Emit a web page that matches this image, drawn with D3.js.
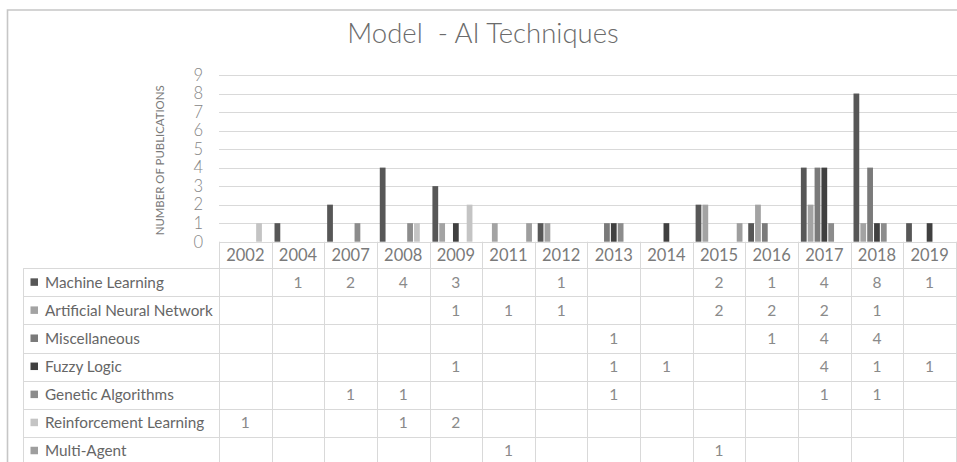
<!DOCTYPE html>
<html>
<head>
<meta charset="utf-8">
<script src="https://cdn.jsdelivr.net/npm/d3@7/dist/d3.min.js"></script>
<style>
  body { margin: 0; background: #fff; }
  svg { display: block; font-family: Lato, "Open Sans", sans-serif; }
</style>
</head>
<body>
<svg id="chart" width="957" height="462"></svg>
<script>
// Publication counts per AI technique and year (empty cell = null)
const years = ["2002", "2004", "2007", "2008", "2009", "2011", "2012", "2013", "2014", "2015", "2016", "2017", "2018", "2019"];
const seriesNames = ["Machine Learning", "Artificial Neural Network", "Miscellaneous", "Fuzzy Logic", "Genetic Algorithms", "Reinforcement Learning", "Multi-Agent"];
const machineLearning       = [null, 1, 2, 4, 3, null, 1, null, null, 2, 1, 4, 8, 1];
const neuralNetwork         = [null, null, null, null, 1, 1, 1, null, null, 2, 2, 2, 1, null];
const miscellaneous         = [null, null, null, null, null, null, null, 1, null, null, 1, 4, 4, null];
const fuzzyLogic            = [null, null, null, null, 1, null, null, 1, 1, null, null, 4, 1, 1];
const geneticAlgorithms     = [null, null, 1, 1, null, null, null, 1, null, null, null, 1, 1, null];
const reinforcementLearning = [1, null, null, 1, 2, null, null, null, null, null, null, null, null, null];
const multiAgent            = [null, null, null, null, null, 1, null, null, null, 1, null, null, null, null];
const seriesColors = ["#575757", "#a3a3a3", "#7a7a7a", "#404040", "#8c8c8c", "#c4c4c4", "#9e9e9e"];
const yTicks = [0, 1, 2, 3, 4, 5, 6, 7, 8, 9];

const seriesValues = [machineLearning, neuralNetwork, miscellaneous, fuzzyLogic, geneticAlgorithms, reinforcementLearning, multiAgent];
const series = seriesNames.map((name, i) => ({ name, color: seriesColors[i], values: seriesValues[i] }));

const svg = d3.select("#chart");
const W = 957, H = 462;

// frame
const frameX = 7.5, frameY = 10;
const plotLeft = 219, plotRight = 955.9;
const plotTop = 75, plotBottom = 241.7;
const tableLeft = 23.3;
const headerBottom = 268.3;
const rowH = 28.07;
const gridColor = "#d9d9d9";

svg.append("path")
  .attr("d", `M${frameX},${H + 2}V${frameY}H${W + 2}`)
  .attr("fill", "none").attr("stroke", "#c6c6c6").attr("stroke-width", 1.6);

// title
svg.append("text")
  .attr("x", 483).attr("y", 42.5)
  .attr("text-anchor", "middle")
  .style("white-space", "pre")
  .attr("font-size", 27.5).attr("font-weight", 300).attr("fill", "#6b6b6b")
  .text("Model  - AI Techniques");

// scales
const x = d3.scaleBand().domain(years).range([plotLeft, plotRight]).padding(0);
const xs = d3.scaleBand().domain(seriesNames).range([0, x.bandwidth()]).paddingInner(0.16).paddingOuter(0.42);
const y = d3.scaleLinear().domain([0, 9]).range([plotBottom, plotTop]);

// gridlines
svg.append("g").selectAll("line").data(yTicks).join("line")
  .attr("x1", plotLeft).attr("x2", W)
  .attr("y1", d => Math.round(y(d)) + 0.5).attr("y2", d => Math.round(y(d)) + 0.5)
  .attr("stroke", gridColor).attr("stroke-width", 1);

// y axis labels
const yAxis = svg.append("g").attr("transform", `translate(${plotLeft},0)`)
  .call(d3.axisLeft(y).tickValues(yTicks).tickSize(0).tickPadding(16).tickFormat(d3.format("d")));
yAxis.select(".domain").remove();
yAxis.selectAll("text").attr("font-size", 16.6).attr("fill", "#858585").attr("font-family", "Lato, sans-serif").attr("font-weight", 300);

// y axis title
svg.append("text")
  .attr("transform", `translate(164,${(plotTop + plotBottom) / 2 + 2}) rotate(-90)`)
  .attr("text-anchor", "middle")
  .attr("font-size", 11.4).attr("fill", "#7a7a7a")
  .text("NUMBER OF PUBLICATIONS");

// bars
const groups = svg.append("g").selectAll("g").data(series).join("g")
  .attr("fill", d => d.color);
groups.selectAll("rect")
  .data(s => s.values.map((v, i) => ({ s: s.name, year: years[i], v })).filter(d => d.v != null))
  .join("rect")
  .attr("x", d => x(d.year) + xs(d.s))
  .attr("width", xs.bandwidth())
  .attr("y", d => y(d.v))
  .attr("height", d => y(0) - y(d.v));

// data table
const rowsTop = headerBottom;
const tableBottom = H + 10;
const tbl = svg.append("g").attr("stroke", gridColor).attr("stroke-width", 1);
// column boundaries
tbl.selectAll("line.col").data(years.concat(["end"])).join("line")
  .attr("class", "col")
  .attr("x1", (d, i) => Math.round(plotLeft + i * x.step()) + 0.5)
  .attr("x2", (d, i) => Math.round(plotLeft + i * x.step()) + 0.5)
  .attr("y1", plotBottom).attr("y2", tableBottom);
// left edge of label column
tbl.append("line")
  .attr("x1", Math.round(tableLeft) + 0.5).attr("x2", Math.round(tableLeft) + 0.5)
  .attr("y1", rowsTop).attr("y2", tableBottom);
// row boundaries
tbl.selectAll("line.row").data(d3.range(seriesNames.length + 1)).join("line")
  .attr("class", "row")
  .attr("x1", tableLeft).attr("x2", W)
  .attr("y1", i => Math.round(rowsTop + i * rowH) + 0.5)
  .attr("y2", i => Math.round(rowsTop + i * rowH) + 0.5);

// year header
const xAxis = svg.append("g").attr("transform", `translate(0,${plotBottom})`)
  .call(d3.axisBottom(x).tickSize(0).tickPadding(0));
xAxis.select(".domain").remove();
xAxis.selectAll("text")
  .attr("y", (headerBottom - plotBottom) / 2).attr("dy", "0.35em")
  .attr("font-size", 16.5).attr("fill", "#7a7a7a").attr("font-family", "Lato, sans-serif");

// row labels with legend keys
const rows = svg.append("g").selectAll("g").data(series).join("g")
  .attr("transform", (d, i) => `translate(0,${rowsTop + (i + 0.5) * rowH})`);
rows.append("rect")
  .attr("x", 30.5).attr("y", -4).attr("width", 7.5).attr("height", 7.5)
  .attr("fill", d => d.color);
rows.append("text")
  .attr("x", 45).attr("dy", "0.35em")
  .attr("font-size", 15.3).attr("fill", "#666")
  .text(d => d.name);
rows.selectAll("text.val")
  .data(d => d.values.map((v, i) => ({ v, year: years[i] })).filter(c => c.v != null))
  .join("text")
  .attr("class", "val")
  .attr("x", c => x(c.year) + x.bandwidth() / 2)
  .attr("dy", "0.35em")
  .attr("text-anchor", "middle")
  .attr("font-size", 15.5).attr("fill", "#8a8a8a")
  .text(c => c.v);
</script>
</body>
</html>
